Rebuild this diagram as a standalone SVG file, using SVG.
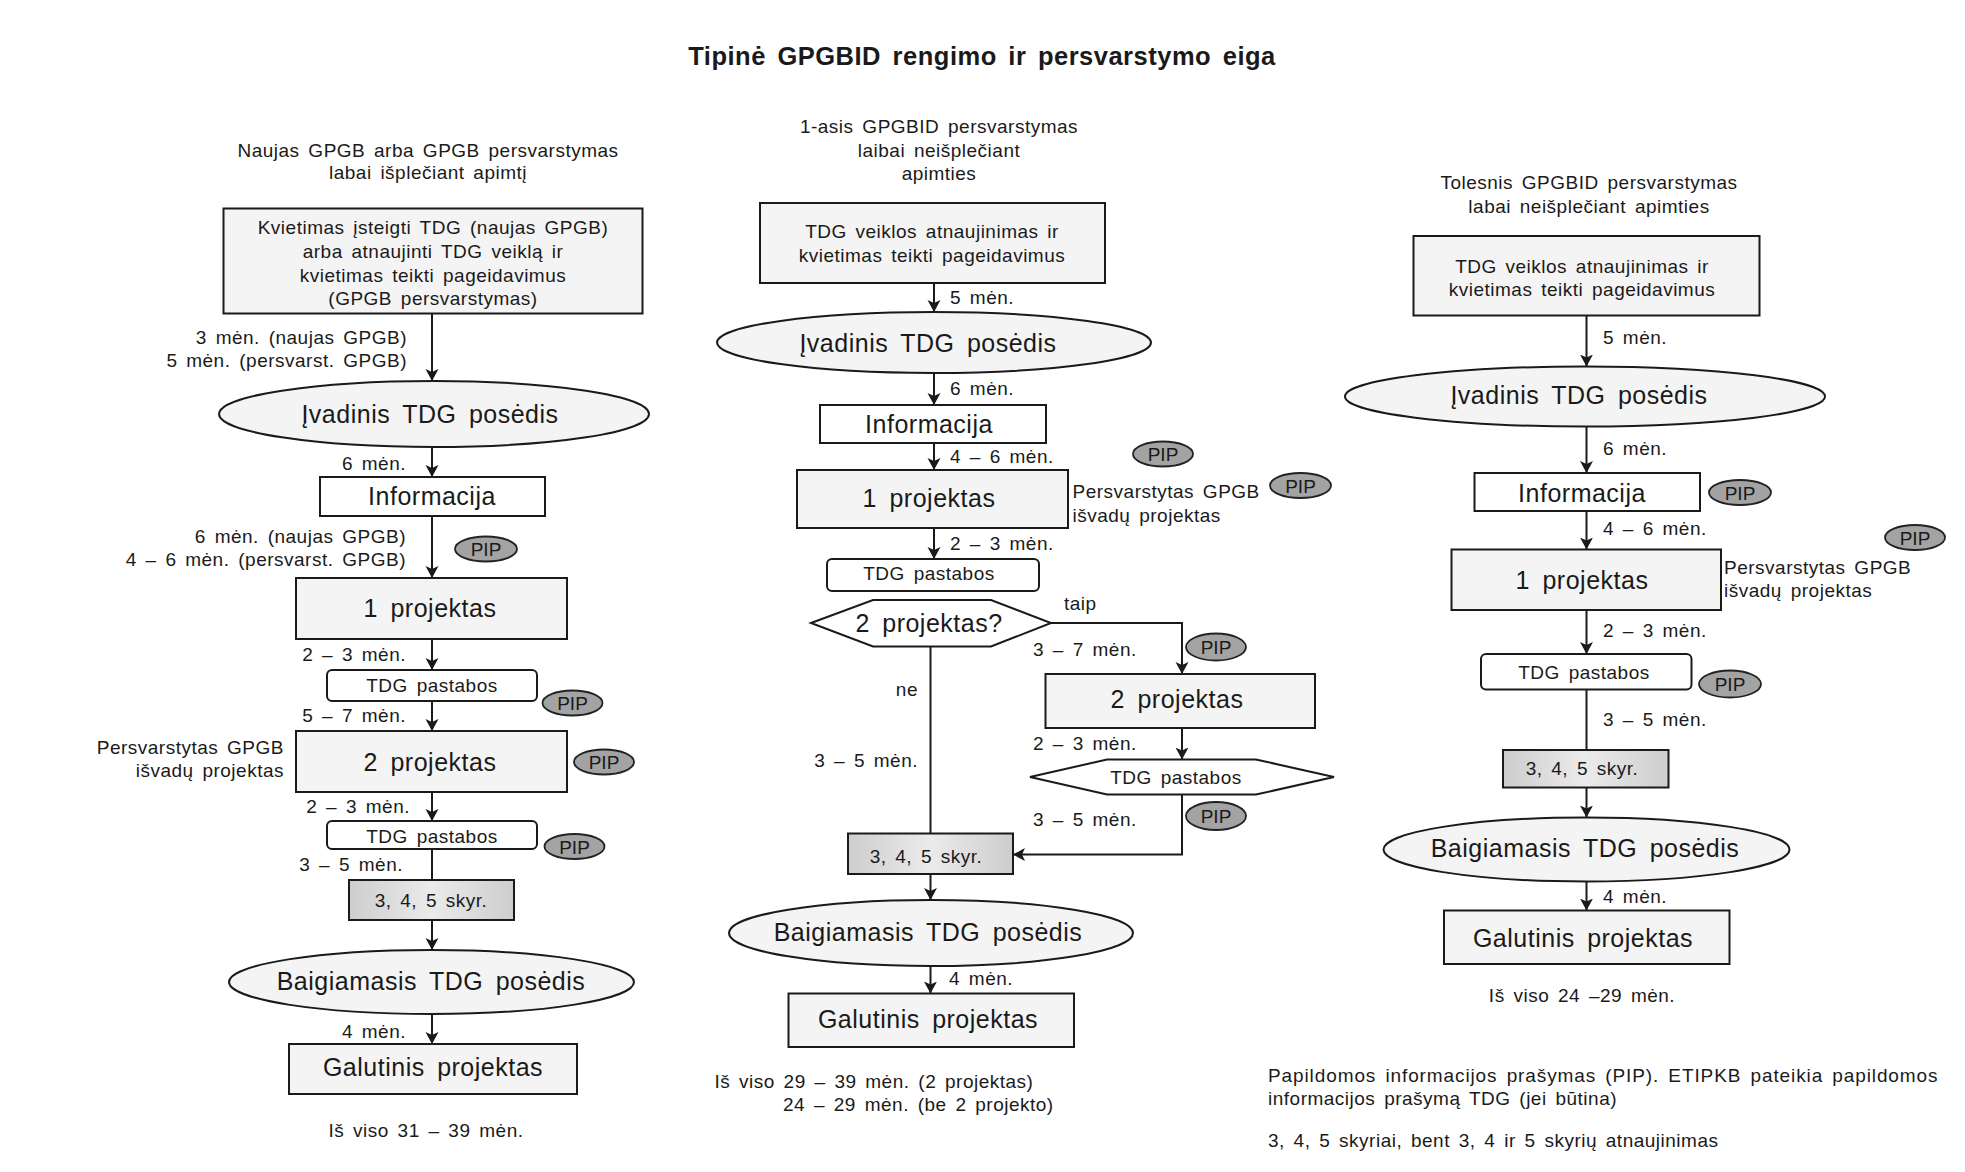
<svg xmlns="http://www.w3.org/2000/svg" width="1965" height="1172" viewBox="0 0 1965 1172">
<style>
text{font-family:"Liberation Sans",Arial,Helvetica,sans-serif;fill:#1a1a1a}
.t{font-size:25.5px;font-weight:bold;letter-spacing:0.5px;word-spacing:4px;text-anchor:middle}
.s{font-size:19px;letter-spacing:0.5px;word-spacing:3px}
.l{font-size:25px;letter-spacing:0.5px;word-spacing:5px}
.p{font-size:19px;text-anchor:middle}
.c{text-anchor:middle}
.e{text-anchor:end}
.box{fill:#f4f4f4;stroke:#1a1a1a;stroke-width:2}
.wbox{fill:#ffffff;stroke:#1a1a1a;stroke-width:2}
.ell{fill:#f4f4f4;stroke:#1a1a1a;stroke-width:2}
.sky{fill:url(#skyg);stroke:#1a1a1a;stroke-width:2}
.pip{fill:#a3a3a3;stroke:#222;stroke-width:1.8}
.conn{stroke:#1a1a1a;stroke-width:2;fill:none}
.arr{marker-end:url(#ah)}
</style>
<defs>
<marker id="ah" markerUnits="userSpaceOnUse" markerWidth="14" markerHeight="14" refX="12" refY="6.5" orient="auto">
<path d="M0,0 L12,6.5 L0,13 L3,6.5 z" fill="#1a1a1a"/>
</marker>
<linearGradient id="skyg" x1="0" y1="0" x2="1" y2="0">
<stop offset="0" stop-color="#cdcdcd"/>
<stop offset="0.5" stop-color="#ebebeb"/>
<stop offset="1" stop-color="#cdcdcd"/>
</linearGradient>
</defs>
<rect width="1965" height="1172" fill="#ffffff"/>

<text class="t" x="982" y="65">Tipinė GPGBID rengimo ir persvarstymo eiga</text>

<g id="headers">
<text class="s c" x="428" y="157">Naujas GPGB arba GPGB persvarstymas</text>
<text class="s c" x="428" y="179">labai išplečiant apimtį</text>
<text class="s c" x="939" y="133">1-asis GPGBID persvarstymas</text>
<text class="s c" x="939" y="157">laibai neišplečiant</text>
<text class="s c" x="939" y="180">apimties</text>
<text class="s c" x="1589" y="189">Tolesnis GPGBID persvarstymas</text>
<text class="s c" x="1589" y="213">labai neišplečiant apimties</text>
</g>

<g id="connectors">
<!-- left -->
<line class="conn arr" x1="432" y1="314" x2="432" y2="381"/>
<line class="conn arr" x1="432" y1="447" x2="432" y2="477"/>
<line class="conn arr" x1="432" y1="516" x2="432" y2="578"/>
<line class="conn arr" x1="432" y1="639" x2="432" y2="670"/>
<line class="conn arr" x1="432" y1="701" x2="432" y2="731"/>
<line class="conn arr" x1="432" y1="792" x2="432" y2="821"/>
<line class="conn" x1="432" y1="849" x2="432" y2="880"/>
<line class="conn arr" x1="432" y1="920" x2="432" y2="950"/>
<line class="conn arr" x1="432" y1="1014" x2="432" y2="1044"/>
<!-- middle -->
<line class="conn arr" x1="934" y1="283" x2="934" y2="312"/>
<line class="conn arr" x1="934" y1="373" x2="934" y2="405"/>
<line class="conn arr" x1="934" y1="443" x2="934" y2="470"/>
<line class="conn arr" x1="934" y1="528" x2="934" y2="559"/>
<path class="conn arr" d="M1051,623 H1182 V674"/>
<line class="conn arr" x1="1182" y1="728" x2="1182" y2="759.5"/>
<path class="conn arr" d="M1182,794.5 V854.5 H1013"/>
<line class="conn" x1="930.5" y1="646.5" x2="930.5" y2="833.5"/>
<line class="conn arr" x1="930.5" y1="874" x2="930.5" y2="900"/>
<line class="conn arr" x1="930.5" y1="966.5" x2="930.5" y2="993.5"/>
<!-- right -->
<line class="conn arr" x1="1586.5" y1="315.5" x2="1586.5" y2="366.5"/>
<line class="conn arr" x1="1586.5" y1="426.5" x2="1586.5" y2="473"/>
<line class="conn arr" x1="1586.5" y1="511" x2="1586.5" y2="549.5"/>
<line class="conn arr" x1="1586.5" y1="610" x2="1586.5" y2="654"/>
<line class="conn" x1="1586.5" y1="689.5" x2="1586.5" y2="750"/>
<line class="conn arr" x1="1586.5" y1="787.5" x2="1586.5" y2="817.5"/>
<line class="conn arr" x1="1586.5" y1="881.5" x2="1586.5" y2="910.5"/>
</g>

<g id="connector-labels">
<text class="s e" x="407" y="344">3 mėn. (naujas GPGB)</text>
<text class="s e" x="407" y="367">5 mėn. (persvarst. GPGB)</text>
<text class="s e" x="406" y="470">6 mėn.</text>
<text class="s e" x="406" y="543">6 mėn. (naujas GPGB)</text>
<text class="s e" x="406" y="566">4 – 6 mėn. (persvarst. GPGB)</text>
<text class="s e" x="406" y="661">2 – 3 mėn.</text>
<text class="s e" x="406" y="722">5 – 7 mėn.</text>
<text class="s e" x="410" y="813">2 – 3 mėn.</text>
<text class="s e" x="403" y="871">3 – 5 mėn.</text>
<text class="s e" x="406" y="1038">4 mėn.</text>

<text class="s" x="950" y="304">5 mėn.</text>
<text class="s" x="950" y="395">6 mėn.</text>
<text class="s" x="950" y="463">4 – 6 mėn.</text>
<text class="s" x="950" y="550">2 – 3 mėn.</text>
<text class="s" x="1064" y="610">taip</text>
<text class="s" x="1033" y="656">3 – 7 mėn.</text>
<text class="s" x="1033" y="750">2 – 3 mėn.</text>
<text class="s" x="1033" y="826">3 – 5 mėn.</text>
<text class="s e" x="918" y="696">ne</text>
<text class="s e" x="918" y="767">3 – 5 mėn.</text>
<text class="s" x="949" y="985">4 mėn.</text>

<text class="s" x="1603" y="344">5 mėn.</text>
<text class="s" x="1603" y="455">6 mėn.</text>
<text class="s" x="1603" y="535">4 – 6 mėn.</text>
<text class="s" x="1603" y="637">2 – 3 mėn.</text>
<text class="s" x="1603" y="726">3 – 5 mėn.</text>
<text class="s" x="1603" y="903">4 mėn.</text>
</g>

<!-- LEFT COLUMN -->
<g id="L-kvietimas">
<rect class="box" x="223.5" y="208.5" width="419" height="105"/>
<text class="s c" x="433" y="234">Kvietimas įsteigti TDG (naujas GPGB)</text>
<text class="s c" x="433" y="258">arba atnaujinti TDG veiklą ir</text>
<text class="s c" x="433" y="282">kvietimas teikti pageidavimus</text>
<text class="s c" x="433" y="305">(GPGB persvarstymas)</text>
</g>
<g id="L-ivadinis">
<ellipse class="ell" cx="434" cy="414" rx="215" ry="33"/>
<text class="l c" x="430" y="423">Įvadinis TDG posėdis</text>
</g>
<g id="L-informacija">
<rect class="wbox" x="320" y="477" width="225" height="39"/>
<text class="l c" x="432" y="505">Informacija</text>
</g>
<g id="L-pip1"><ellipse class="pip" cx="486" cy="549" rx="31" ry="12.5"/><text class="p" x="486" y="556">PIP</text></g>
<g id="L-projektas1">
<rect class="box" x="296" y="578" width="271" height="61"/>
<text class="l c" x="430" y="617">1 projektas</text>
</g>
<g id="L-pastabos1">
<rect class="wbox" x="327" y="670" width="210" height="31" rx="5"/>
<text class="s c" x="432" y="692">TDG pastabos</text>
</g>
<g id="L-pip2"><ellipse class="pip" cx="572.5" cy="703" rx="30" ry="12.5"/><text class="p" x="572.5" y="710">PIP</text></g>
<g id="L-projektas2">
<rect class="box" x="296" y="731" width="271" height="61"/>
<text class="l c" x="430" y="771">2 projektas</text>
<text class="s e" x="284" y="754">Persvarstytas GPGB</text>
<text class="s e" x="284" y="777">išvadų projektas</text>
</g>
<g id="L-pip3"><ellipse class="pip" cx="604" cy="762" rx="30" ry="12.5"/><text class="p" x="604" y="769">PIP</text></g>
<g id="L-pastabos2">
<rect class="wbox" x="327" y="821" width="210" height="28" rx="5"/>
<text class="s c" x="432" y="843">TDG pastabos</text>
</g>
<g id="L-pip4"><ellipse class="pip" cx="574.5" cy="846.5" rx="30" ry="12.5"/><text class="p" x="574.5" y="853.5">PIP</text></g>
<g id="L-skyr">
<rect class="sky" x="349" y="880" width="165" height="40"/>
<text class="s c" x="431" y="907">3, 4, 5 skyr.</text>
</g>
<g id="L-baigiamasis">
<ellipse class="ell" cx="431.5" cy="982" rx="202.5" ry="32"/>
<text class="l c" x="431" y="990">Baigiamasis TDG posėdis</text>
</g>
<g id="L-galutinis">
<rect class="box" x="289" y="1044" width="288" height="50"/>
<text class="l c" x="433" y="1076">Galutinis projektas</text>
</g>
<text class="s c" x="426" y="1137">Iš viso 31 – 39 mėn.</text>

<!-- MIDDLE COLUMN -->
<g id="M-tdg">
<rect class="box" x="760" y="203" width="345" height="80"/>
<text class="s c" x="932" y="238">TDG veiklos atnaujinimas ir</text>
<text class="s c" x="932" y="261.5">kvietimas teikti pageidavimus</text>
</g>
<g id="M-ivadinis">
<ellipse class="ell" cx="934" cy="342.5" rx="217" ry="30.5"/>
<text class="l c" x="928" y="351.5">Įvadinis TDG posėdis</text>
</g>
<g id="M-informacija">
<rect class="wbox" x="820" y="405" width="226" height="38"/>
<text class="l c" x="929" y="433">Informacija</text>
</g>
<g id="M-pip1"><ellipse class="pip" cx="1163" cy="454" rx="30" ry="12.5"/><text class="p" x="1163" y="461">PIP</text></g>
<g id="M-projektas1">
<rect class="box" x="797" y="470" width="271" height="58"/>
<text class="l c" x="929" y="507">1 projektas</text>
<text class="s" x="1072.5" y="498">Persvarstytas GPGB</text>
<text class="s" x="1072.5" y="521.5">išvadų projektas</text>
</g>
<g id="M-pip2"><ellipse class="pip" cx="1300.5" cy="485.5" rx="30.5" ry="12.5"/><text class="p" x="1300.5" y="492.5">PIP</text></g>
<g id="M-pastabos1">
<rect class="wbox" x="827" y="559" width="212" height="32" rx="5"/>
<text class="s c" x="929" y="580">TDG pastabos</text>
</g>
<g id="M-decision">
<polygon class="wbox" points="811,623 873,600 991,600 1051,623 991,646.5 873,646.5"/>
<text class="l c" x="929" y="632">2 projektas?</text>
</g>
<g id="M-pip3"><ellipse class="pip" cx="1216" cy="647" rx="30" ry="13.5"/><text class="p" x="1216" y="654">PIP</text></g>
<g id="M-projektas2">
<rect class="box" x="1045.5" y="674" width="269.5" height="54"/>
<text class="l c" x="1177" y="708">2 projektas</text>
</g>
<g id="M-pastabos2">
<polygon class="wbox" points="1030,777 1107,759.5 1256,759.5 1334,777 1256,794.5 1107,794.5"/>
<text class="s c" x="1176" y="784">TDG pastabos</text>
</g>
<g id="M-pip4"><ellipse class="pip" cx="1216" cy="816" rx="30" ry="14"/><text class="p" x="1216" y="823">PIP</text></g>
<g id="M-skyr">
<rect class="sky" x="848" y="833.5" width="165" height="40.5"/>
<text class="s c" x="926" y="863">3, 4, 5 skyr.</text>
</g>
<g id="M-baigiamasis">
<ellipse class="ell" cx="931" cy="933" rx="202" ry="33"/>
<text class="l c" x="928" y="941">Baigiamasis TDG posėdis</text>
</g>
<g id="M-galutinis">
<rect class="box" x="788.5" y="993.5" width="285.5" height="53.5"/>
<text class="l c" x="928" y="1028">Galutinis projektas</text>
</g>
<text class="s" x="714.5" y="1088">Iš viso 29 – 39 mėn. (2 projektas)</text>
<text class="s" x="783" y="1111">24 – 29 mėn. (be 2 projekto)</text>

<!-- RIGHT COLUMN -->
<g id="R-tdg">
<rect class="box" x="1413.5" y="236" width="346" height="79.5"/>
<text class="s c" x="1582" y="273">TDG veiklos atnaujinimas ir</text>
<text class="s c" x="1582" y="296">kvietimas teikti pageidavimus</text>
</g>
<g id="R-ivadinis">
<ellipse class="ell" cx="1585" cy="396.5" rx="240" ry="30"/>
<text class="l c" x="1579" y="404">Įvadinis TDG posėdis</text>
</g>
<g id="R-informacija">
<rect class="wbox" x="1474.5" y="473" width="225.5" height="38"/>
<text class="l c" x="1582" y="502">Informacija</text>
</g>
<g id="R-pip1"><ellipse class="pip" cx="1740" cy="492.5" rx="31" ry="12.5"/><text class="p" x="1740" y="499.5">PIP</text></g>
<g id="R-projektas1">
<rect class="box" x="1451.5" y="549.5" width="269.5" height="60.5"/>
<text class="l c" x="1582" y="588.5">1 projektas</text>
<text class="s" x="1724" y="573.5">Persvarstytas GPGB</text>
<text class="s" x="1724" y="597">išvadų projektas</text>
</g>
<g id="R-pip2"><ellipse class="pip" cx="1915" cy="537.5" rx="30" ry="12.5"/><text class="p" x="1915" y="544.5">PIP</text></g>
<g id="R-pastabos">
<rect class="wbox" x="1481" y="654" width="210.5" height="35.5" rx="5"/>
<text class="s c" x="1584" y="678.5">TDG pastabos</text>
</g>
<g id="R-pip3"><ellipse class="pip" cx="1730" cy="684" rx="31" ry="13.5"/><text class="p" x="1730" y="691">PIP</text></g>
<g id="R-skyr">
<rect class="sky" x="1503" y="750" width="165.5" height="37.5"/>
<text class="s c" x="1582" y="775">3, 4, 5 skyr.</text>
</g>
<g id="R-baigiamasis">
<ellipse class="ell" cx="1586.5" cy="849.5" rx="203" ry="32"/>
<text class="l c" x="1585" y="857">Baigiamasis TDG posėdis</text>
</g>
<g id="R-galutinis">
<rect class="box" x="1444" y="910.5" width="285.5" height="53.5"/>
<text class="l c" x="1583" y="947">Galutinis projektas</text>
</g>
<text class="s c" x="1582" y="1002">Iš viso 24 –29 mėn.</text>

<g id="legend">
<text class="s" x="1268" y="1082" textLength="670" lengthAdjust="spacing">Papildomos informacijos prašymas (PIP). ETIPKB pateikia papildomos</text>
<text class="s" x="1268" y="1104.5">informacijos prašymą TDG (jei būtina)</text>
<text class="s" x="1268" y="1147">3, 4, 5 skyriai, bent 3, 4 ir 5 skyrių atnaujinimas</text>
</g>
</svg>
